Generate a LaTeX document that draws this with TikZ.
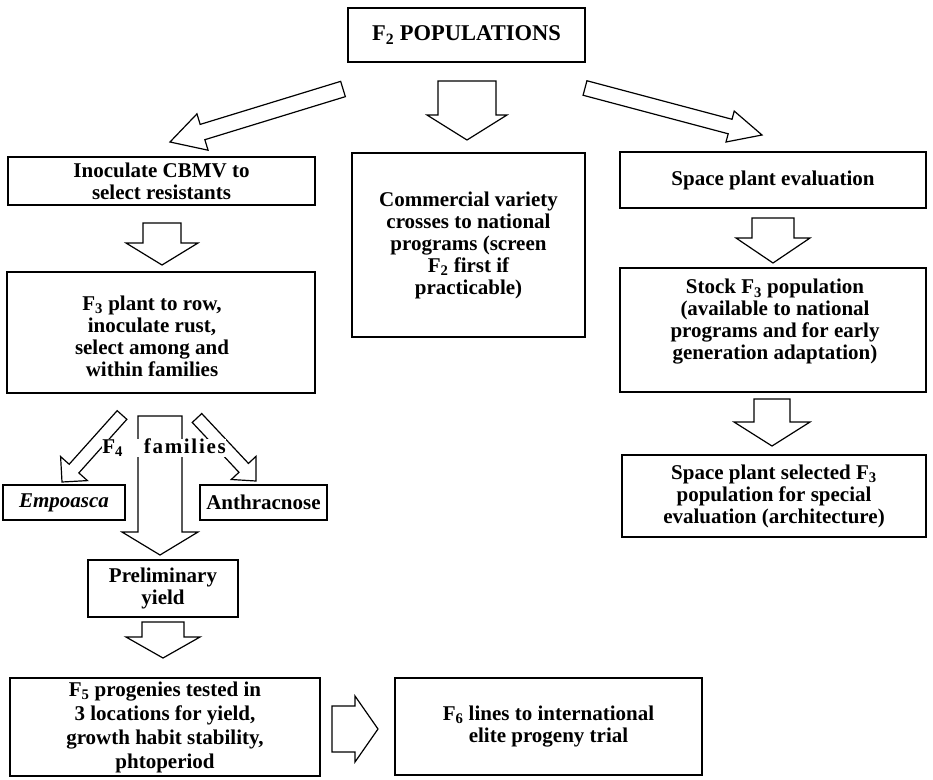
\documentclass[tikz,border=0pt]{standalone}
\usepackage{fontspec}
\setmainfont{Liberation Serif}
\usetikzlibrary{calc}
\tikzset{
  box/.style={draw, line width=1.5pt, align=center, inner sep=0pt,
    font=\bfseries\fontsize{21}{22}\selectfont},
  txt/.style={align=center, inner sep=0pt,
    font=\bfseries\fontsize{21}{22}\selectfont},
  fatarr/.style={draw, fill=white, line width=1.2pt, line join=miter},
}
% #1 tail, #2 tip, #3 shaft half width, #4 head half width, #5 head length
\newcommand\fatarrow[5]{%
  \coordinate (fab) at ($(#2)!#5!(#1)$);
  \draw[fatarr] ($(#1)!#3!90:(#2)$) -- ($(fab)!#3!90:(#2)$) -- ($(fab)!#4!90:(#2)$)
    -- (#2) -- ($(fab)!#4!-90:(#2)$) -- ($(fab)!#3!-90:(#2)$) -- ($(#1)!#3!-90:(#2)$) -- cycle;
}
\begin{document}
\begin{tikzpicture}[x=1pt,y=-1pt]
\useasboundingbox (0,0) rectangle (933,779);

% boxes
\node[box, minimum width=237pt, minimum height=54pt, font=\bfseries\fontsize{22.5}{23}\selectfont] (f2) at (466.5,35) {F\textsubscript{2} POPULATIONS};
\node[box, minimum width=307pt, minimum height=48pt] (inoc) at (161.5,181) {Inoculate CBMV to\\select resistants};
\node[box, minimum width=233pt, minimum height=184pt] (comm) at (468.5,245) {Commercial variety\\crosses to national\\programs (screen\\F\textsubscript{2} first if\\practicable)};
\node[box, minimum width=306pt, minimum height=56pt] (space) at (773,180) {Space plant evaluation};

\node[box, minimum width=308pt, minimum height=121pt] (f3) at (161,332.5) {};
\node[txt] (f3txt) at (152,336) {F\textsubscript{3} plant to row,\\inoculate rust,\\select among and\\within families};

\node[box, minimum width=306pt, minimum height=124pt] (stock) at (773,330) {};
\node[txt] (stocktxt) at (775,322) {Stock F\textsubscript{3} population\\(available to national\\programs and for early\\generation adaptation)};

\node[box, minimum width=304pt, minimum height=82pt] (sel) at (774,496) {Space plant selected F\textsubscript{3}\\population for special\\evaluation (architecture)};

\node[box, minimum width=122pt, minimum height=35pt] (emp) at (64,502.5) {\textit{Empoasca}};
\node[box, minimum width=127pt, minimum height=35pt] (anth) at (263.5,502.5) {Anthracnose};
\node[box, minimum width=150pt, minimum height=57pt] (prel) at (163,588.5) {Preliminary\\yield};
\node[box, minimum width=310pt, minimum height=98pt, font=\bfseries\fontsize{21}{24}\selectfont] (f5) at (165,727) {F\textsubscript{5} progenies tested in\\3 locations for yield,\\growth habit stability,\\phtoperiod};
\node[box, minimum width=307pt, minimum height=97pt] (f6) at (548.5,726.5) {F\textsubscript{6} lines to international\\elite progeny trial};

% arrow end points
\coordinate (a0t) at (467,81);   \coordinate (a0h) at (467,140);
\coordinate (aLt) at (343,89);   \coordinate (aLh) at (170,142);
\coordinate (aRt) at (585,88);   \coordinate (aRh) at (762,135);
\coordinate (a1t) at (162,223);  \coordinate (a1h) at (162,265);
\coordinate (a2t) at (773,218);  \coordinate (a2h) at (773,263);
\coordinate (a3t) at (772,399);  \coordinate (a3h) at (772,446);
\coordinate (a4t) at (160,416);  \coordinate (a4h) at (160,555);
\coordinate (a5t) at (122,415);  \coordinate (a5h) at (62,482);
\coordinate (a6t) at (197,418);  \coordinate (a6h) at (256,481);
\coordinate (a7t) at (163,622);  \coordinate (a7h) at (163,658);
\coordinate (a8t) at (332,729);  \coordinate (a8h) at (378,729);

\fatarrow{a0t}{a0h}{29pt}{40pt}{25pt}
\fatarrow{aLt}{aLh}{8pt}{19pt}{34pt}
\fatarrow{aRt}{aRh}{7.5pt}{16pt}{33pt}
\fatarrow{a1t}{a1h}{19pt}{36pt}{22pt}
\fatarrow{a2t}{a2h}{21pt}{37pt}{25pt}
\fatarrow{a3t}{a3h}{18pt}{38pt}{24pt}
\fatarrow{a4t}{a4h}{22pt}{38pt}{23pt}
\fatarrow{a5t}{a5h}{6.5pt}{18pt}{18pt}
\fatarrow{a6t}{a6h}{6.5pt}{17pt}{18pt}
\fatarrow{a7t}{a7h}{21pt}{37pt}{21pt}
\fatarrow{a8t}{a8h}{23pt}{33pt}{23pt}

\node[txt, fill=white] (f4lbl) at (164,448) {F\textsubscript{4}\hspace{21pt}{\addfontfeature{LetterSpace=8}families}};
\end{tikzpicture}
\end{document}
